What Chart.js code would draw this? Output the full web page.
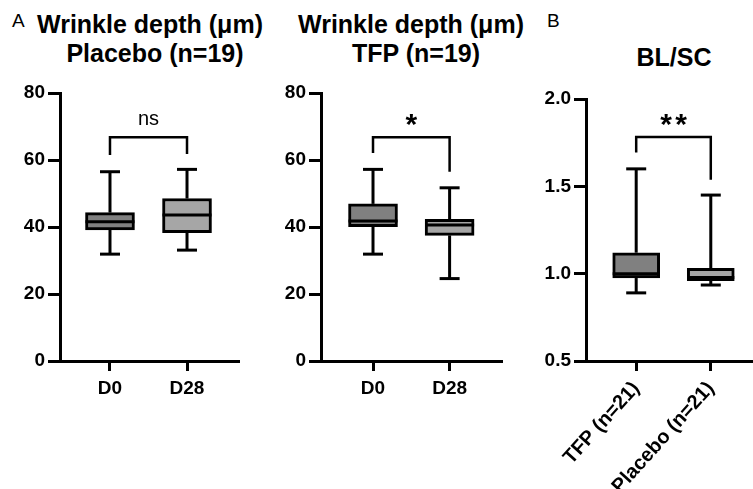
<!DOCTYPE html>
<html>
<head>
<meta charset="utf-8">
<script src="https://cdn.jsdelivr.net/npm/chart.js@4.4.0/dist/chart.umd.min.js"></script>
<style>
    body { margin: 0; background: #fff; width: 753px; height: 489px; overflow: hidden; position: relative; font-family: "Liberation Sans", Arial, sans-serif; color: #000; }
    .panel { position: absolute; top: 0; }
    .title { position: absolute; font-weight: bold; font-size: 25px; line-height: 29px; text-align: center; white-space: nowrap; width: 300px; }
    .letter { position: absolute; font-size: 19px; line-height: 19px; }
</style>
</head>
<body>

<div class="letter" style="left:12px; top:11px;">A</div>
<div class="letter" style="left:547px; top:11px;">B</div>
<div class="title" style="left:0px; top:10px;">Wrinkle depth (μm)</div>
<div class="title" style="left:5px; top:39px;">Placebo (n=19)</div>
<div class="title" style="left:261px; top:10px;">Wrinkle depth (μm)</div>
<div class="title" style="left:266px; top:39px;">TFP (n=19)</div>
<div class="title" style="left:524px; top:43px;">BL/SC</div>

<canvas id="chart-placebo" class="panel" width="250" height="489" style="left:0px;"></canvas>
<canvas id="chart-tfp" class="panel" width="260" height="489" style="left:250px;"></canvas>
<canvas id="chart-blsc" class="panel" width="243" height="489" style="left:510px;"></canvas>

<script>
// Panel A - wrinkle depth, placebo group
const dayLabels = ['D0', 'D28'];
const wrinkleTicks = [0, 20, 40, 60, 80];
const wrinkleTickLabels = ['0', '20', '40', '60', '80'];

const placeboMin = [31.9, 33.1];
const placeboQ1 = [39.1, 38.3];
const placeboMedian = [41.6, 43.6];
const placeboQ3 = [44.3, 48.5];
const placeboMax = [56.5, 57.2];

// Panel A - wrinkle depth, TFP group
const tfpMin = [31.9, 24.6];
const tfpQ1 = [40.1, 37.5];
const tfpMedian = [41.8, 40.6];
const tfpQ3 = [46.9, 42.3];
const tfpMax = [57.2, 51.7];

// Panel B - BL/SC ratio
const groupLabels = ['TFP (n=21)', 'Placebo (n=21)'];
const ratioTicks = [0.5, 1.0, 1.5, 2.0];
const ratioTickLabels = ['0.5', '1.0', '1.5', '2.0'];

const ratioMin = [0.89, 0.935];
const ratioQ1 = [0.975, 0.96];
const ratioMedian = [1.0, 0.978];
const ratioQ3 = [1.12, 1.03];
const ratioMax = [1.60, 1.45];

// significance brackets: [bracket top, left leg end, right leg end]
const placeboBracket = [66.8, 61.5, 61.8];
const tfpBracket = [66.8, 62.1, 56.5];
const ratioBracket = [1.783, 1.694, 1.537];

const boxColors = ['#808080', '#a6a6a6'];

/**
 * Draws whiskers, caps, median line and the significance bracket
 * on top of the floating bars that make up the boxes.
 */
const boxDetails = {
    id: 'boxDetails',
    afterDatasetsDraw(chart, args, opts) {
        const { ctx } = chart;
        const x = chart.scales.x;
        const y = chart.scales.y;
        const half = opts.boxWidth / 2;
        const capHalf = 10;

        ctx.save();
        ctx.strokeStyle = '#000';
        ctx.lineCap = 'butt';

        const line = (x1, y1, x2, y2, w) => {
            ctx.lineWidth = w;
            ctx.beginPath();
            ctx.moveTo(x1, y1);
            ctx.lineTo(x2, y2);
            ctx.stroke();
        };

        opts.median.forEach((m, i) => {
            const cx = x.getPixelForValue(i);
            const yMin = y.getPixelForValue(opts.min[i]);
            const yMax = y.getPixelForValue(opts.max[i]);
            const yQ1 = y.getPixelForValue(opts.q1[i]);
            const yQ3 = y.getPixelForValue(opts.q3[i]);
            const yMed = y.getPixelForValue(m);

            line(cx, yQ3, cx, yMax, 3);
            line(cx, yQ1, cx, yMin, 3);
            line(cx - capHalf, yMax, cx + capHalf, yMax, 3);
            line(cx - capHalf, yMin, cx + capHalf, yMin, 3);
            line(cx - half, yMed, cx + half, yMed, 3);
        });

        // significance bracket
        const [top, leftEnd, rightEnd] = opts.bracket;
        const xl = x.getPixelForValue(0);
        const xr = x.getPixelForValue(1);
        const yTop = y.getPixelForValue(top);
        ctx.lineWidth = 2.5;
        ctx.beginPath();
        ctx.moveTo(xl, y.getPixelForValue(leftEnd));
        ctx.lineTo(xl, yTop);
        ctx.lineTo(xr, yTop);
        ctx.lineTo(xr, y.getPixelForValue(rightEnd));
        ctx.stroke();

        ctx.fillStyle = '#000';
        ctx.font = opts.labelFont;
        ctx.textAlign = 'center';
        ctx.textBaseline = 'alphabetic';
        const cx = (xl + xr) / 2;
        if (opts.label.length > 1 && opts.labelGap) {
            // draw each star separately so the gap can be set
            const n = opts.label.length;
            for (let k = 0; k < n; k++) {
                ctx.fillText(opts.label[k], cx + (k - (n - 1) / 2) * opts.labelGap, yTop - opts.labelOffset);
            }
        } else {
            ctx.fillText(opts.label, cx, yTop - opts.labelOffset);
        }
        ctx.restore();
    }
};

/**
 * Builds one box plot panel.
 */
function createPanel(canvasId, p) {
    const ctx = document.getElementById(canvasId).getContext('2d');

    return new Chart(ctx, {
        type: 'bar',
        data: {
            datasets: [{
                data: p.categories.map((c, i) => ({ x: i, y: [p.q1[i], p.q3[i]] })),
                backgroundColor: boxColors,
                borderColor: '#000',
                borderWidth: 3,
                borderSkipped: false,
                barThickness: p.boxWidth
            }]
        },
        options: {
            responsive: false,
            animation: false,
            layout: { padding: { top: p.top, right: p.right, left: 0, bottom: 0 } },
            plugins: {
                legend: { display: false },
                tooltip: { enabled: false },
                boxDetails: {
                    boxWidth: p.boxWidth,
                    min: p.min, q1: p.q1, median: p.median, q3: p.q3, max: p.max,
                    bracket: p.bracket,
                    label: p.label,
                    labelFont: p.labelFont,
                    labelOffset: p.labelOffset,
                    labelGap: p.labelGap
                }
            },
            scales: {
                x: {
                    type: 'linear',
                    offset: false,
                    min: p.xMin,
                    max: p.xMax,
                    afterBuildTicks: scale => { scale.ticks = p.categories.map((c, i) => ({ value: i })); },
                    afterFit: scale => { scale.height = p.xAxisHeight; },
                    border: { display: true, color: '#000', width: 3 },
                    grid: { display: true, offset: false, drawOnChartArea: false, drawTicks: true, tickLength: 10, tickWidth: 3, tickColor: '#000' },
                    ticks: {
                        color: '#000',
                        font: { family: 'Liberation Sans', weight: 'bold', size: p.xFontSize },
                        padding: 6,
                        autoSkip: false,
                        minRotation: p.rotation,
                        maxRotation: p.rotation,
                        callback: v => p.categories[v]
                    }
                },
                y: {
                    min: p.yTicks[0],
                    max: p.yTicks[p.yTicks.length - 1],
                    afterBuildTicks: scale => { scale.ticks = p.yTicks.map(v => ({ value: v })); },
                    afterFit: scale => { scale.width = p.yAxisWidth; },
                    border: { display: true, color: '#000', width: 3 },
                    grid: { display: true, drawOnChartArea: false, drawTicks: true, tickLength: 12, tickWidth: 3, tickColor: '#000' },
                    ticks: {
                        color: '#000',
                        font: { family: 'Liberation Sans', weight: 'bold', size: 19 },
                        padding: 3,
                        callback: (v, i) => p.yTickLabels[i]
                    }
                }
            }
        },
        plugins: [boxDetails]
    });
}

createPanel('chart-placebo', {
    categories: dayLabels,
    min: placeboMin, q1: placeboQ1, median: placeboMedian, q3: placeboQ3, max: placeboMax,
    yTicks: wrinkleTicks, yTickLabels: wrinkleTickLabels,
    bracket: placeboBracket, label: 'ns', labelFont: '20px "Liberation Sans"', labelOffset: 12,
    xMin: -0.649, xMax: 1.675, boxWidth: 49, rotation: 0, xFontSize: 19,
    top: 93, right: 11, yAxisWidth: 60, xAxisHeight: 128
});

createPanel('chart-tfp', {
    categories: dayLabels,
    min: tfpMin, q1: tfpQ1, median: tfpMedian, q3: tfpQ3, max: tfpMax,
    yTicks: wrinkleTicks, yTickLabels: wrinkleTickLabels,
    bracket: tfpBracket, label: '*', labelFont: 'bold 30px "Liberation Sans"', labelOffset: 3,
    xMin: -0.679, xMax: 1.684, boxWidth: 49, rotation: 0, xFontSize: 19,
    top: 93, right: 8, yAxisWidth: 71, xAxisHeight: 128
});

createPanel('chart-blsc', {
    categories: groupLabels,
    min: ratioMin, q1: ratioQ1, median: ratioMedian, q3: ratioQ3, max: ratioMax,
    yTicks: ratioTicks, yTickLabels: ratioTickLabels,
    bracket: ratioBracket, label: '**', labelFont: 'bold 30px "Liberation Sans"', labelOffset: 3, labelGap: 15,
    xMin: -0.673, xMax: 1.566, boxWidth: 47, rotation: 48, xFontSize: 20,
    top: 99, right: 0, yAxisWidth: 76, xAxisHeight: 128
});
</script>
</body>
</html>
